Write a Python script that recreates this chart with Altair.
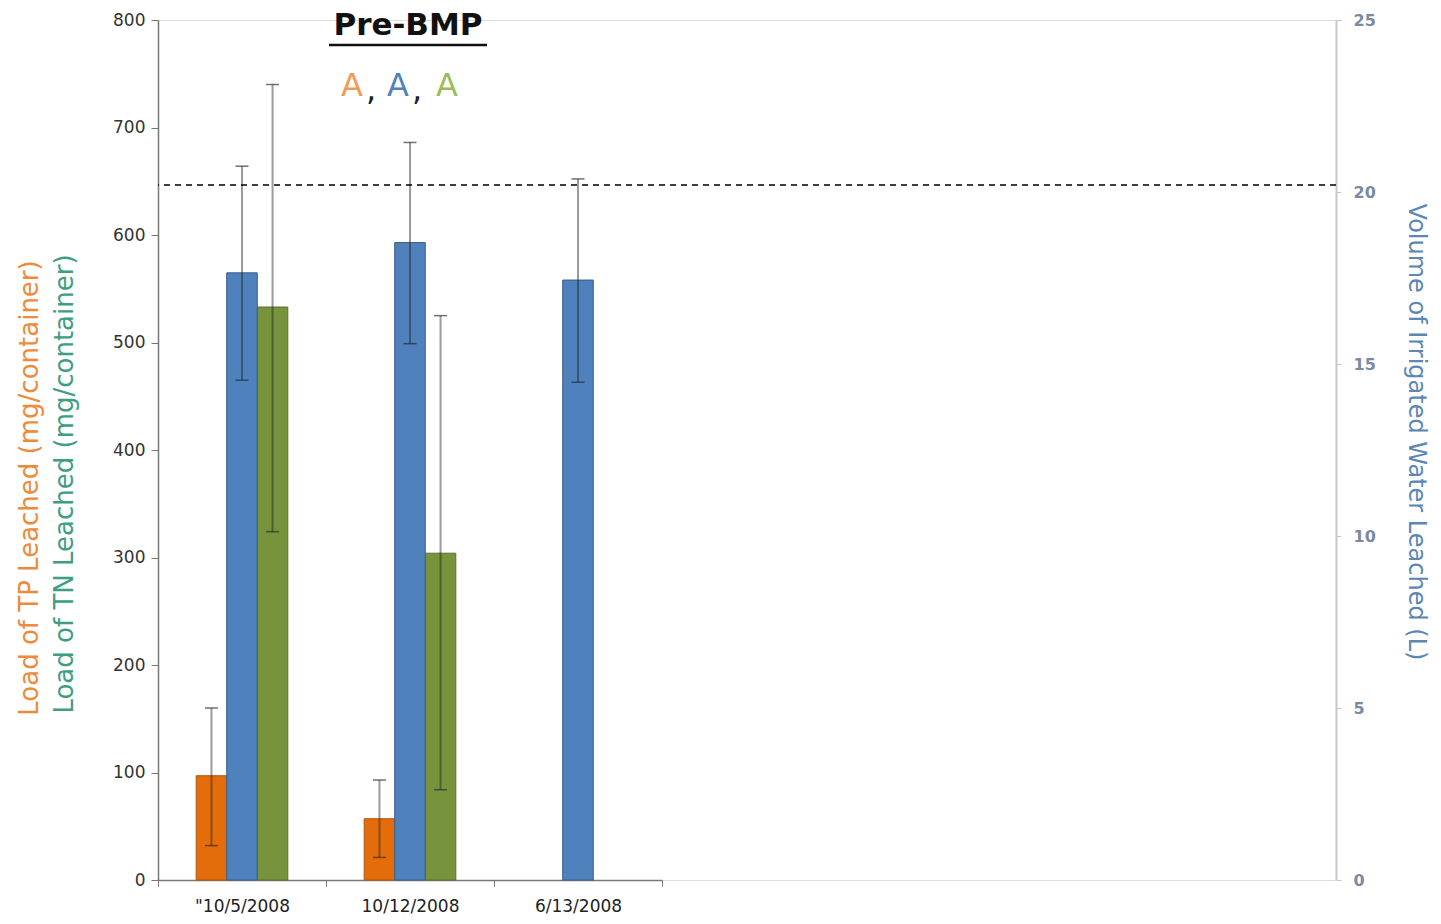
import altair as alt
import pandas as pd

# ---------------- data ----------------
dates = ['"10/5/2008', "10/12/2008", "6/13/2008"]
series = ["TP", "Water", "TN"]

tp_dates = ['"10/5/2008', "10/12/2008"]
tp_mean = [97, 57]
tp_low = [32, 21]
tp_high = [160, 93]

tn_dates = ['"10/5/2008', "10/12/2008"]
tn_mean = [533, 304]
tn_low = [324, 84]
tn_high = [740, 525]

water_dates = ['"10/5/2008', "10/12/2008", "6/13/2008"]
water_mean = [17.65, 18.53, 17.44]
water_low = [14.53, 15.59, 14.47]
water_high = [20.75, 21.44, 20.38]

threshold = [20.2]

left_ticks = [0, 100, 200, 300, 400, 500, 600, 700, 800]
right_ticks = [0, 5, 10, 15, 20, 25]

# ---------------- frames ----------------
left_df = pd.concat([
    pd.DataFrame({"date": tp_dates, "s": "TP", "v": tp_mean, "lo": tp_low, "hi": tp_high}),
    pd.DataFrame({"date": tn_dates, "s": "TN", "v": tn_mean, "lo": tn_low, "hi": tn_high}),
])
right_df = pd.DataFrame({"date": water_dates, "s": "Water", "v": water_mean,
                         "lo": water_low, "hi": water_high})
thr_df = pd.DataFrame({"t": threshold})

FONT = "DejaVu Sans"
fill_scale = alt.Scale(domain=series, range=["#E46C0A", "#4F81BD", "#77933C"])
stroke_scale = alt.Scale(domain=series, range=["#B65708", "#385D8A", "#5A7030"])

# offset slots: empty slots on both sides keep the three bars narrow and centred
offset_domain = ["_l"] + series + ["_r"]

x_enc = alt.X("date:N", sort=dates,
              scale=alt.Scale(domain=dates, range=[0, 504], paddingInner=0, paddingOuter=0),
              axis=alt.Axis(title=None, labelAngle=0, tickBand="extent", labelFont=FONT,
                            labelFontSize=17, labelColor="#222", labelPadding=12,
                            domainColor="#777", tickColor="#777", tickSize=6, domainWidth=1.5))
xo_enc = alt.XOffset("s:N", sort=offset_domain,
                     scale=alt.Scale(domain=offset_domain, paddingInner=0, paddingOuter=0.25))

y_left = alt.Y("v:Q", scale=alt.Scale(domain=[0, 800], nice=False),
               axis=alt.Axis(title=None, values=left_ticks, grid=False, labelFont=FONT,
                             labelFontSize=17, labelColor="#333", labelPadding=6,
                             domainColor="#777", tickColor="#777", tickSize=7,
                             domainWidth=1.5))
y_right = alt.Y("v:Q", scale=alt.Scale(domain=[0, 25], nice=False),
                axis=alt.Axis(title=None, orient="right", values=right_ticks, grid=False,
                              labelFont=FONT, labelFontSize=16, labelFontWeight="bold",
                              labelColor="#7A8AA3", labelPadding=12,
                              domainColor="#C8C8C8", tickColor="#C8C8C8", tickSize=5,
                              domainWidth=2))

def bar_layer(df, y):
    base = alt.Chart(df)
    bars = base.mark_bar(strokeWidth=1).encode(
        x=x_enc, xOffset=xo_enc, y=y,
        color=alt.Color("s:N", scale=fill_scale, legend=None),
        stroke=alt.Stroke("s:N", scale=stroke_scale, legend=None),
    )
    rules = base.mark_rule(color="#222", opacity=0.45, strokeWidth=2).encode(
        x=x_enc, xOffset=xo_enc, y=alt.Y("lo:Q"), y2="hi:Q")
    cap_hi = base.mark_tick(color="#333", opacity=0.7, size=13, thickness=1.5).encode(
        x=x_enc, xOffset=xo_enc, y=alt.Y("hi:Q"))
    cap_lo = base.mark_tick(color="#222", opacity=0.6, size=13, thickness=1.5).encode(
        x=x_enc, xOffset=xo_enc, y=alt.Y("lo:Q"))
    return bars, rules, cap_hi, cap_lo

lb, lr, lh, ll = bar_layer(left_df, y_left)
rb, rr, rh, rl = bar_layer(right_df, y_right)

thr = alt.Chart(thr_df).mark_rule(color="black", strokeDash=[6, 5], strokeWidth=1.5).encode(
    y=alt.Y("t:Q"))

left_group = alt.layer(lb, lr, lh, ll)
right_group = alt.layer(rb, rr, rh, rl, thr)

def txt(s, x, y, color, size, weight="normal", angle=0, font=FONT):
    return alt.Chart(pd.DataFrame({"t": [s]})).mark_text(
        font=font, fontSize=size, fontWeight=weight, color=color, angle=angle,
        align="center", baseline="middle").encode(
        x=alt.value(x), y=alt.value(y), text="t:N")

title = txt("Pre-BMP", 250, 6, "#111", 31, "bold")
underline = alt.Chart(pd.DataFrame({"t": [0]})).mark_rule(color="#111", strokeWidth=2.5).encode(
    x=alt.value(171), x2=alt.value(329), y=alt.value(25))
a1 = txt("A", 194, 66, "#F39A52", 32)
c1 = txt(",", 213, 70, "#222", 32)
a2 = txt("A", 240, 66, "#4F81BD", 32)
c2 = txt(",", 259, 70, "#222", 32)
a3 = txt("A", 289, 66, "#9BBB59", 32)

tp_title = txt("Load of TP Leached (mg/container)", -128, 468, "#EE8A3C", 26, angle=270)
tn_title = txt("Load of TN Leached (mg/container)", -93, 464, "#3E9E80", 26, angle=270)
r_title = txt("Volume of Irrigated Water Leached (L)", 1258, 412, "#5B87B5", 24, angle=90)

chart = alt.layer(
    left_group, right_group,
    title, underline, a1, c1, a2, c2, a3, tp_title, tn_title, r_title,
).resolve_scale(y="independent").properties(
    width=1178, height=860,
    autosize=alt.AutoSizeParams(type="none"),
    padding={"left": 150, "top": 12, "right": 96, "bottom": 36},
).configure_view(stroke=None).configure(background="white")

chart.save("out.html", embed_options={"renderer": "svg", "actions": False})
